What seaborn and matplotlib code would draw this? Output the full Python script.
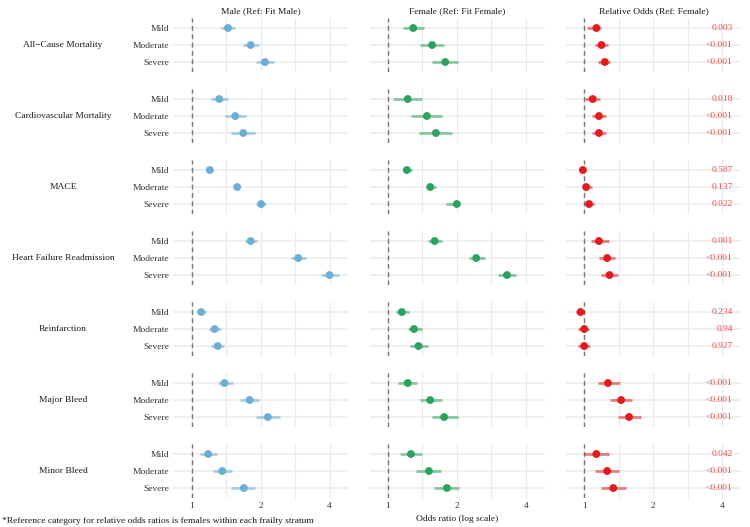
import numpy as np
import pandas as pd
import seaborn as sns
import matplotlib.pyplot as plt
from matplotlib.ticker import NullFormatter

# outcomes (row facets), frailty strata and column panels
outcomes = ["All\u2212Cause Mortality", "Cardiovascular Mortality", "MACE",
            "Heart Failure Readmission", "Reinfarction", "Major Bleed", "Minor Bleed"]
severities = ["Mild", "Moderate", "Severe"]
panels = ["Male (Ref: Fit Male)", "Female (Ref: Fit Female)", "Relative Odds (Ref: Female)"]

# odds ratios, read row by row (outcome x severity)
male_or = [1.44, 1.81, 2.09, 1.32, 1.55, 1.68, 1.20, 1.58, 2.01, 1.81, 2.92, 4.00,
           1.10, 1.26, 1.30, 1.39, 1.79, 2.15, 1.18, 1.36, 1.69]
male_lo = [1.34, 1.68, 1.91, 1.22, 1.40, 1.49, 1.16, 1.53, 1.91, 1.71, 2.71, 3.68,
           1.05, 1.19, 1.22, 1.30, 1.62, 1.91, 1.09, 1.24, 1.49]
male_hi = [1.54, 1.96, 2.29, 1.44, 1.72, 1.89, 1.24, 1.63, 2.11, 1.92, 3.15, 4.39,
           1.16, 1.34, 1.39, 1.51, 1.96, 2.43, 1.29, 1.50, 1.89]

female_or = [1.29, 1.56, 1.78, 1.22, 1.48, 1.62, 1.21, 1.53, 2.00, 1.60, 2.43, 3.31,
             1.15, 1.30, 1.36, 1.22, 1.53, 1.76, 1.26, 1.51, 1.81]
female_lo = [1.16, 1.38, 1.56, 1.05, 1.26, 1.37, 1.17, 1.46, 1.80, 1.49, 2.25, 3.04,
             1.09, 1.22, 1.25, 1.11, 1.38, 1.55, 1.13, 1.33, 1.59]
female_hi = [1.44, 1.76, 2.02, 1.41, 1.73, 1.91, 1.27, 1.62, 2.06, 1.72, 2.66, 3.64,
             1.23, 1.41, 1.49, 1.34, 1.72, 2.02, 1.41, 1.71, 2.05]

rel_or = [1.13, 1.19, 1.23, 1.09, 1.16, 1.16, 0.987, 1.02, 1.05, 1.16, 1.26, 1.29,
          0.964, 1.00, 1.00, 1.27, 1.45, 1.57, 1.13, 1.26, 1.34]
rel_lo = [1.03, 1.12, 1.15, 1.01, 1.08, 1.08, 0.96, 0.995, 1.01, 1.07, 1.16, 1.18,
          0.922, 0.941, 0.941, 1.15, 1.29, 1.40, 1.00, 1.12, 1.18]
rel_hi = [1.19, 1.27, 1.30, 1.17, 1.25, 1.25, 1.02, 1.08, 1.10, 1.28, 1.37, 1.40,
          1.01, 1.05, 1.06, 1.44, 1.62, 1.77, 1.28, 1.42, 1.53]

p_values = ["0.003", "<0.001", "<0.001", "0.018", "<0.001", "<0.001",
            "0.587", "0.137", "0.022", "0.001", "<0.001", "<0.001",
            "0.234", "0.94", "0.927", "<0.001", "<0.001", "<0.001",
            "0.042", "<0.001", "<0.001"]

panel_colors = {panels[0]: "#6baed6", panels[1]: "#2ca25f", panels[2]: "#e41a1c"}

# long-form table for the facet grid
rows = []
series = [(panels[0], male_or, male_lo, male_hi),
          (panels[1], female_or, female_lo, female_hi),
          (panels[2], rel_or, rel_lo, rel_hi)]
for panel, est, lo, hi in series:
    k = 0
    for o in outcomes:
        for j, s in enumerate(severities):
            rows.append({"panel": panel, "outcome": o, "severity": s, "ypos": j,
                         "est": est[k], "lo": lo[k], "hi": hi[k],
                         "p": p_values[k] if panel == panels[2] else ""})
            k += 1
df = pd.DataFrame(rows)

sns.set_theme(style="whitegrid", rc={"grid.color": "#ebebeb", "grid.linewidth": 0.9,
                                     "axes.edgecolor": "white"})
plt.rcParams["font.family"] = ["Liberation Serif", "DejaVu Serif"]

FS = 6.8
p_x = 4.45


def draw_forest(data, color=None, **kws):
    ax = plt.gca()
    panel = data["panel"].iloc[0]
    c = panel_colors[panel]
    ax.axvline(1, color="#777777", ls=(0, (3.5, 2.5)), lw=1.0, zorder=1)
    ax.hlines(data["ypos"], data["lo"], data["hi"], color=c, alpha=0.55, lw=2.0, zorder=2)
    sns.scatterplot(data=data, x="est", y="ypos", color=c, s=32, edgecolor="none",
                    ax=ax, zorder=3, legend=False)
    if panel == panels[2]:
        for y, p in zip(data["ypos"], data["p"]):
            ax.text(p_x, y, p, ha="right", va="center", color="#ef4a4a", fontsize=FS)


g = sns.FacetGrid(df, row="outcome", col="panel", row_order=outcomes, col_order=panels,
                  sharex=True, sharey=True, height=0.8, aspect=3)
g.map_dataframe(draw_forest)
g.set_titles(template="")
g.set_axis_labels("", "")

fig = g.figure
fig.set_size_inches(7.5, 5.27)
fig.subplots_adjust(left=0.231, right=0.988, top=0.9662, bottom=0.0546,
                    wspace=0.12, hspace=0.305)

for ax in g.axes.flat:
    ax.set_xscale("log", base=2)
    ax.set_xlim(0.831, 4.84)
    ax.set_xticks([1, 2, 4])
    ax.set_xticklabels(["1", "2", "4"])
    ax.set_xticks([np.sqrt(2), 2 * np.sqrt(2)], minor=True)
    ax.xaxis.set_minor_formatter(NullFormatter())
    ax.grid(True, which="both", axis="x", color="#ebebeb", lw=0.9)
    ax.grid(True, which="major", axis="y", color="#ebebeb", lw=1.1)
    ax.set_yticks([0, 1, 2])
    ax.set_yticklabels(severities)
    ax.set_ylim(2.6, -0.6)
    ax.tick_params(length=0, labelsize=FS, labelcolor="#333333", pad=3)
    ax.tick_params(axis="x", which="minor", length=0)
    for sp in ax.spines.values():
        sp.set_visible(False)

for ax, title in zip(g.axes[0], panels):
    ax.set_title(title, fontsize=FS, color="#1a1a1a", pad=3)

for i, o in enumerate(outcomes):
    pos = g.axes[i, 0].get_position()
    fig.text(63 / 750, (pos.y0 + pos.y1) / 2, o, ha="center", va="center",
             fontsize=FS, color="#1a1a1a")

g.axes[-1, 1].set_xlabel("Odds ratio (log scale)", fontsize=FS, color="#1a1a1a", labelpad=3)
fig.text(2 / 750, 1 - 521 / 527,
         "*Reference category for relative odds ratios is females within each frailty stratum",
         ha="left", va="center", fontsize=FS, color="#1a1a1a")

fig.savefig("out.png", dpi=100, facecolor="white")
